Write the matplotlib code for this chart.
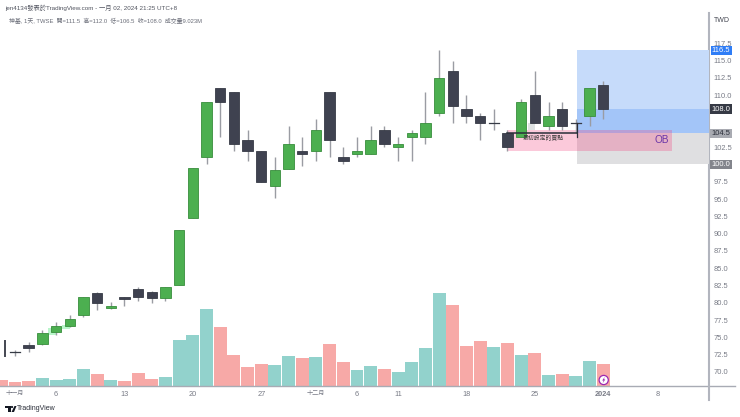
#!/usr/bin/env python3
# -*- coding: utf-8 -*-
import matplotlib
matplotlib.use('Agg')
from matplotlib import pyplot as plt
from matplotlib.lines import Line2D
from matplotlib.patches import Rectangle, Circle, Polygon

plt.rcParams['font.family'] = ['Liberation Sans', 'Noto Sans CJK TC']

W, H = 740, 417

# day index -1 is the half visible bar at the left edge, it has no candle
opens = [72.8, 73.9, 74.0, 75.8, 76.6, 78.3, 81.4, 79.3, 80.8, 82.0, 81.6, 80.7,
         82.5, 92.3, 101.0, 111.0, 110.5, 103.5, 102.0, 96.9, 99.3, 102.0, 102.0,
         110.5, 101.0, 101.5, 101.5, 105.0, 102.5, 104.0, 104.0, 107.5, 113.5,
         108.0, 107.0, 106.0, 104.5, 104.0, 110.0, 105.5, 108.0, 106.0, 107.0, 111.5]
highs = [73.2, 74.3, 76.0, 77.2, 78.2, 80.8, 81.5, 80.1, 80.8, 82.3, 81.7, 82.3,
         90.5, 99.5, 109.0, 111.0, 110.5, 105.0, 102.0, 101.0, 105.5, 104.0, 106.5,
         110.5, 102.5, 104.0, 105.5, 105.5, 104.0, 105.0, 110.5, 116.5, 115.0,
         110.0, 107.5, 108.0, 105.0, 109.5, 113.5, 109.0, 109.0, 106.5, 111.0, 112.0]
lows = [72.3, 72.9, 73.9, 75.4, 76.5, 77.9, 78.9, 79.1, 79.6, 80.2, 79.9, 80.3,
        82.5, 92.3, 100.0, 104.0, 102.0, 100.5, 97.4, 95.2, 99.3, 99.8, 100.5,
        101.0, 100.0, 101.0, 101.5, 102.5, 100.5, 100.5, 103.0, 107.0, 106.0,
        106.0, 103.5, 105.0, 102.0, 104.0, 106.0, 105.0, 105.0, 104.5, 105.5, 106.5]
closes = [72.9, 73.5, 75.6, 76.6, 77.7, 80.8, 79.9, 79.5, 80.6, 80.8, 80.7, 82.3,
          90.5, 99.5, 109.0, 109.0, 103.0, 102.0, 97.5, 99.2, 103.0, 101.5, 105.0,
          103.5, 100.5, 102.0, 103.5, 103.0, 103.0, 104.5, 106.0, 112.5, 108.5,
          107.0, 106.0, 106.0, 102.5, 109.0, 106.0, 107.0, 105.5, 106.0, 111.0, 108.0]
candle_up = [0, 0, 1, 1, 1, 1, 0, 1, 0, 0, 0, 1, 1, 1, 1, 0, 0, 0, 0, 1, 1, 0, 1, 0, 0,
             1, 1, 0, 1, 1, 1, 1, 0, 0, 0, 0, 0, 1, 0, 1, 0, 0, 1, 0]

# millions of shares, starts at day -1
volumes = [2.6, 1.6, 2.3, 3.4, 2.6, 2.9, 7.0, 5.1, 2.6, 2.2, 5.5, 3.0, 3.8, 19.0, 20.9,
           31.6, 24.3, 13.0, 7.9, 9.0, 8.7, 12.4, 11.6, 12.0, 17.2, 10.0, 6.8, 8.2, 7.0,
           5.7, 9.8, 15.7, 38.1, 33.4, 16.7, 18.6, 15.9, 17.9, 13.0, 13.5, 4.6, 4.9, 4.4,
           10.3, 9.0]
vol_up = [0, 0, 0, 1, 1, 1, 1, 0, 1, 0, 0, 0, 1, 1, 1, 1, 0, 0, 0, 0, 1, 1, 0, 1, 0, 0,
          1, 1, 0, 1, 1, 1, 1, 0, 0, 0, 1, 0, 1, 0, 1, 0, 1, 1, 0]

# 100.0, 105.0 and 107.5 are hidden behind the badges on the scale
y_ticks = [70 + 2.5 * i for i in range(20) if i not in (12, 14, 15)]
x_tick_pos = [0, 3, 8, 13, 18, 22, 25, 28, 33, 38, 43, 47]
x_tick_labels = ['十一月', '6', '13', '20', '27', '十二月', '6', '11', '18', '25', '2024', '8']

UP = '#4caf50'
UP_EDGE = '#388e3c'
DOWN = '#3f4250'
DOWN_EDGE = '#363a45'
WICK = '#9a9ca3'
GRAY = '#787b86'

# pixel layout of the plot area
LEFT, RIGHT, TOP, BOTTOM = 0, 708.7, 12, 386.3
STEP = 13.68
X0 = 15.0
PX_PER_UNIT = 6.92
Y70 = 372.0

fig = plt.figure(figsize=(W / 100, H / 100), dpi=100, facecolor='w')
rect = [LEFT / W, 1 - BOTTOM / H, (RIGHT - LEFT) / W, (BOTTOM - TOP) / H]

ax = fig.add_axes(rect, zorder=2)
ax.patch.set_alpha(0)
ax.set_xlim((LEFT - X0) / STEP, (RIGHT - X0) / STEP)
ax.set_ylim(70 + (Y70 - BOTTOM) / PX_PER_UNIT, 70 + (Y70 - TOP) / PX_PER_UNIT)

# volume sits in its own axes below the price one, tallest bar is about 93 px
axv = fig.add_axes(rect, zorder=1, sharex=ax)
axv.set_ylim(0, 38.1 * (BOTTOM - TOP) / 93)
axv.axis('off')
for i, (v, up) in enumerate(zip(volumes, vol_up)):
    axv.bar(i - 1, v, width=0.95, color='#92d2cc' if up else '#f7a9a7', edgecolor='none')

# drawings: long/short position boxes, order block, small gaps
last = (RIGHT - X0) / STEP
ax.add_patch(Rectangle((41.05, 104.5), last - 41.05, 12, fc='#c6dbfa', ec='none', zorder=1))
ax.add_patch(Rectangle((41.05, 104.5), last - 41.05, 3.5, fc='#a3c5f8', ec='none', zorder=1.1))
ax.add_patch(Rectangle((41.05, 100), last - 41.05, 4.5, fc='#dfdfe1', ec='none', zorder=1))
ax.add_patch(Rectangle((36.0, 102), 12.0, 3, fc='#f23d7c', ec='none', alpha=0.28, zorder=1.2))
ax.add_patch(Rectangle((2.4, 75.3), 0.6, 1.0, fc='#b9f6ca', ec='none', zorder=1))
ax.add_patch(Rectangle((3.4, 76.2), 0.6, 0.6, fc='#b9f6ca', ec='none', zorder=1))
ax.add_patch(Rectangle((37.5, 105), 0.5, 1.0, fc='#dfe3e3', ec='none', zorder=1))

for i, (o, h, l, c, up) in enumerate(zip(opens, highs, lows, closes, candle_up)):
    ax.plot([i, i], [l, h], color=WICK, lw=1.0, zorder=3, solid_capstyle='butt')
    lo, hi = min(o, c), max(o, c)
    if hi - lo < 0.15:
        ax.plot([i - 0.38, i + 0.38], [hi, hi], color=DOWN_EDGE, lw=0.9, zorder=4)
        continue
    ax.add_patch(Rectangle((i - 0.38, lo), 0.76, hi - lo, fc=UP if up else DOWN,
                           ec=UP_EDGE if up else DOWN_EDGE, lw=0.6, zorder=4))

ax.plot([36.0, 41.05], [104.5, 104.5], color='#2a2e39', lw=1.1, zorder=5)
ax.plot([41.05, 41.05], [103.9, 106.0], color='#2a2e39', lw=0.9, zorder=5)
ax.plot([-0.7, -0.7], [72.3, 74.5], color='#434651', lw=1.4, zorder=5)
ax.text(38.6, 103.8, '最初設定的買點', fontsize=4.2, color='#3a3a3a', ha='center', va='center', zorder=6)
ax.text(47.3, 103.5, 'OB', fontsize=7.2, color='#6a35a8', ha='center', va='center', zorder=6)

# axes cosmetics
ax.yaxis.tick_right()
ax.set_yticks(y_ticks)
ax.set_yticklabels(['%.1f' % t for t in y_ticks], fontsize=5.4, color=GRAY)
ax.set_xticks(x_tick_pos)
ax.set_xticklabels(x_tick_labels, fontsize=5.3, color=GRAY)
ax.get_xticklabels()[10].set_fontweight('bold')
for i in (0, 5):
    ax.get_xticklabels()[i].set_fontsize(4.4)
ax.tick_params(axis='both', length=0)
ax.tick_params(axis='y', pad=3.3)
ax.tick_params(axis='x', pad=3.2)
for name in ('top', 'left', 'bottom', 'right'):
    ax.spines[name].set_visible(False)

# axis lines run past the plot area
fig.add_artist(Line2D([0, 735 / W], [1 - BOTTOM / H] * 2, color='#a8abb4', lw=1.0))
fig.add_artist(Line2D([RIGHT / W] * 2, [1 - 400 / H, 1 - 13 / H], color='#b2b5be', lw=1.5))

# last price and position labels on the scale
badges = [(116.5, '#2f7df6', 'w'), (108.0, '#363a45', 'w'),
          (104.5, '#a9abb2', '#2a2e39'), (100.0, '#83858c', 'w')]
for price, bg, fg in badges:
    ax.annotate('%.1f' % price, xy=(1, price), xycoords=('axes fraction', 'data'),
                xytext=(8.9, 0), textcoords='offset points', fontsize=5.4, color=fg,
                ha='center', va='center', annotation_clip=False, zorder=10,
                bbox=dict(boxstyle='square,pad=0.16', fc=bg, ec='none'))

fig.text(722 / W, 1 - 20.5 / H, 'TWD', fontsize=5.0, color='#434651', ha='center', va='center')
fig.text(5 / W, 1 - 7.5 / H, 'jen4134發表於TradingView.com - 一月 02, 2024 21:25 UTC+8',
         fontsize=4.5, color='#50535e', va='center')
fig.text(9 / W, 1 - 20.5 / H,
         '神基, 1天, TWSE  開=111.5  高=112.0  低=106.5  收=108.0  成交量9.023M',
         fontsize=4.25, color='#6a6d78', va='center')

# lightning marker on the last volume bar
fig.add_artist(Circle((603.7, H - 380), 4.6, transform=None, fc='w', ec='#9c27b0', lw=0.9, zorder=8))
bolt = [(604.8, 376.8), (602.2, 380.5), (603.6, 380.5), (602.7, 383.2), (605.3, 379.4), (603.9, 379.4)]
fig.add_artist(Polygon([(x, H - y) for x, y in bolt], transform=None, fc='#9c27b0', ec='none', zorder=9))

# TradingView logo
logo_t = [(5, 406), (10.5, 406), (10.5, 412), (8.3, 412), (8.3, 408), (5, 408)]
logo_v = [(14.5, 406), (16.5, 406), (14, 412), (11.5, 412)]
for pts in (logo_t, logo_v):
    fig.add_artist(Polygon([(x, H - y) for x, y in pts], transform=None, fc='#131722', ec='none'))
fig.add_artist(Circle((12, H - 407), 1.1, transform=None, fc='#131722', ec='none'))
fig.text(17 / W, 1 - 409 / H, 'TradingView', fontsize=5.0, color='#2a2e39', va='center')

fig.savefig('out.png', dpi=100, facecolor='w')
